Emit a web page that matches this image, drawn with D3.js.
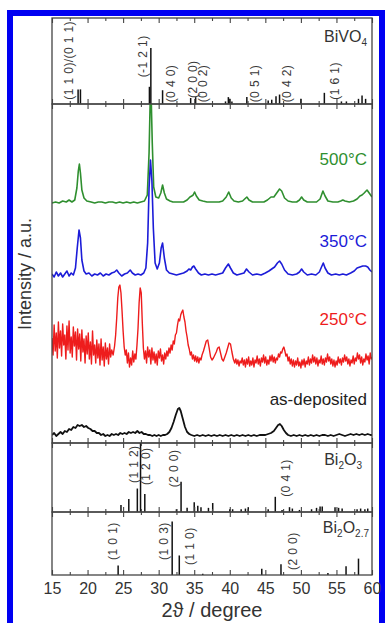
<!DOCTYPE html>
<html><head><meta charset="utf-8">
<script src="https://cdn.jsdelivr.net/npm/d3@7"></script>
<style>body{margin:0;background:#fff}svg{display:block}text{font-family:"Liberation Sans",Arial,sans-serif}</style>
</head><body><svg id="c" width="386" height="623"></svg>
<script>
// ---------- DATA ----------
const majorTicks = [15,20,25,30,35,40,45,50,55,60];
const minorTicks = [17.5,22.5,27.5,32.5,37.5,42.5,47.5,52.5,57.5];

// BiVO4 reference sticks [2θ, rel. intensity %]
const bivo4Sticks = [[18.67,17],[19.0,17],[28.7,20],[28.9,65],[30.55,16],[34.5,7],[35.2,8],[39.4,3],[39.8,8],[40.0,6],[40.3,3],[42.4,8],[45.4,4],[45.9,5],[46.5,9],[47.0,11],[50.0,6],[53.3,13],[55.7,3],[56.4,3],[58.1,6],[58.6,10],[59.1,6]];
const bivo4Labels = [["(1 1 0)/(0 1 1)",17.25,5],["(-1 2 1)",27.66,31],["(0 4 0)",31.6,2],["(2 0 0)",34.8,7],["(0 0 2)",36.2,2],["(0 5 1)",43.5,2],["(0 4 2)",48.0,2],["(1 6 1)",54.7,5]];

// Bi2O3 reference sticks
const bi2o3Sticks = [[24.7,10],[25.8,19],[27.0,34],[27.45,100],[28.05,26],[32.5,4],[33.15,44],[34.0,6],[35.0,14],[35.5,9],[35.95,7],[37.0,6],[37.6,13],[40.0,4],[40.4,4],[41.6,4],[42.2,5],[42.6,7],[45.4,4],[46.4,22],[47.35,3],[48.4,7],[48.8,5],[49.8,3],[51.5,4],[52.2,6],[52.7,8],[53.0,8],[54.8,7],[55.3,6],[55.8,5],[57.9,4],[58.4,5],[59.0,4],[59.4,5]];
const bi2o3Labels = [["(1 1 2)",26.5,42],["(1 2 0)",28.2,39],["(2 0 0)",32.15,36],["(0 4 1)",47.9,22]];

// Bi2O2.7 reference sticks
const bi2o27Sticks = [[24.3,15],[31.9,85],[32.9,31],[36.2,2],[44.5,10],[47.2,17],[53.8,3],[56.35,14],[58.1,26]];
const bi2o27Labels = [["(1 0 1)",23.5,24],["(1 0 3)",30.7,24],["(1 1 0)",34.3,16],["(2 0 0)",48.8,8]];

// measured patterns [2θ, stacked intensity]
const curve500 = [[15,240],[15.5,241],[16,240],[16.5,242],[17,241],[17.4,243],[17.8,241],[18.2,243],[18.5,255],[18.7,272],[18.85,279],[19.0,270],[19.2,253],[19.5,245],[19.9,242],[20.5,241],[21,240],[21.5,241],[22,241],[22.5,240],[23,241],[23.5,241],[24,240],[24.5,241],[25,240],[25.5,241],[26,240],[26.5,241],[27,240],[27.5,241],[28,242],[28.4,248],[28.65,290],[28.8,340],[28.95,345],[29.1,300],[29.3,256],[29.6,246],[30.0,245],[30.3,250],[30.55,258],[30.8,250],[31.1,244],[31.6,242],[32,241],[32.5,241],[33,241],[33.5,241],[34.0,243],[34.4,246],[34.65,247],[34.85,248],[35.05,251],[35.3,247],[35.7,243],[36.2,242],[36.8,241],[37.5,241],[38,241],[38.5,241],[39,242],[39.5,246],[39.85,251],[40.2,245],[40.6,242],[41.2,241],[41.8,242],[42.1,244],[42.4,246],[42.7,243],[43.2,241],[44,241],[44.8,241],[45.3,243],[45.8,246],[46.2,246],[46.6,250],[47.0,254],[47.3,252],[47.7,245],[48.2,242],[48.8,241],[49.4,241],[49.8,243],[50.1,246],[50.4,243],[50.9,241],[51.5,241],[52.2,241],[52.7,244],[53.1,252],[53.4,247],[53.8,242],[54.5,241],[55.2,241],[55.6,242],[55.9,243],[56.2,242],[56.8,241],[57.4,242],[57.9,244],[58.3,247],[58.6,248],[58.9,250],[59.3,253],[59.6,250],[60,246]];

const curve350 = [[15,169],[15.3,166],[15.6,171],[15.9,167],[16.2,170],[16.5,166],[16.8,169],[17.1,172],[17.4,167],[17.7,170],[18.0,168],[18.3,175],[18.55,195],[18.8,213],[19.0,205],[19.2,183],[19.5,172],[19.8,169],[20.2,170],[20.6,167],[21.0,169],[21.4,168],[21.8,170],[22.2,167],[22.6,169],[23.0,168],[23.4,170],[23.8,171],[24.1,173],[24.4,170],[24.8,167],[25.2,169],[25.6,170],[26.0,173],[26.3,170],[26.7,168],[27.1,169],[27.5,168],[27.9,170],[28.2,175],[28.45,200],[28.65,255],[28.85,283],[29.05,262],[29.25,215],[29.5,180],[29.8,174],[30.1,180],[30.35,195],[30.55,200],[30.8,185],[31.1,173],[31.5,170],[32,169],[32.5,168],[33,169],[33.5,170],[34.0,172],[34.25,174],[34.5,173],[34.75,176],[34.95,177],[35.2,174],[35.6,170],[36,168],[36.5,169],[37,168],[37.5,169],[38,168],[38.5,169],[39.0,170],[39.4,175],[39.8,179],[40.1,175],[40.5,170],[41,168],[41.5,169],[42.0,170],[42.35,174],[42.7,171],[43.2,168],[43.8,169],[44.4,168],[45.0,170],[45.5,172],[45.9,174],[46.3,176],[46.7,180],[47.0,182],[47.3,179],[47.7,173],[48.2,169],[48.8,168],[49.4,169],[49.8,171],[50.1,174],[50.4,171],[50.9,168],[51.5,169],[52.1,168],[52.6,171],[52.9,176],[53.15,180],[53.4,175],[53.8,170],[54.3,168],[54.9,169],[55.4,168],[55.9,169],[56.4,168],[57,170],[57.5,172],[57.9,175],[58.3,176],[58.7,177],[59.1,177],[59.4,176],[59.7,173],[60,171]];

const curve250 = [[15.0,105],[15.15,88],[15.3,118],[15.45,92],[15.6,110],[15.75,85],[15.9,121],[16.05,95],[16.2,112],[16.35,87],[16.5,119],[16.65,98],[16.8,108],[16.95,84],[17.1,117],[17.25,93],[17.4,122],[17.55,90],[17.7,106],[17.85,86],[18.0,116],[18.15,97],[18.3,111],[18.45,83],[18.6,114],[18.75,94],[18.9,109],[19.05,82],[19.2,113],[19.35,91],[19.5,104],[19.65,80],[19.8,107],[19.95,89],[20.1,110],[20.25,84],[20.4,101],[20.55,79],[20.7,112],[20.85,88],[21.0,98],[21.15,80],[21.3,103],[21.45,85],[21.6,99],[21.75,78],[21.9,104],[22.05,83],[22.2,96],[22.35,77],[22.5,100],[22.65,84],[22.8,95],[22.95,79],[23.1,99],[23.25,86],[23.4,93],[23.6,88],[23.8,97],[23.95,108],[24.1,125],[24.25,145],[24.4,156],[24.55,158],[24.7,150],[24.85,132],[25.0,112],[25.15,96],[25.3,88],[25.45,93],[25.6,80],[25.75,90],[25.9,76],[26.05,85],[26.2,78],[26.35,92],[26.5,81],[26.65,89],[26.8,84],[26.95,98],[27.1,115],[27.25,140],[27.4,155],[27.55,150],[27.7,120],[27.85,95],[28.0,84],[28.15,92],[28.3,80],[28.45,96],[28.6,86],[28.75,93],[28.9,79],[29.05,95],[29.2,83],[29.35,91],[29.5,80],[29.65,89],[29.8,78],[29.95,92],[30.1,85],[30.25,94],[30.4,82],[30.55,88],[30.7,79],[30.85,90],[31.0,84],[31.15,92],[31.3,87],[31.45,95],[31.6,90],[31.75,98],[31.9,93],[32.05,102],[32.2,99],[32.35,108],[32.5,110],[32.65,118],[32.8,124],[32.95,122],[33.1,128],[33.25,131],[33.4,133],[33.55,126],[33.7,121],[33.85,112],[34.0,106],[34.15,98],[34.3,94],[34.45,88],[34.6,91],[34.75,84],[34.9,88],[35.05,82],[35.2,87],[35.35,81],[35.5,86],[35.65,80],[35.8,85],[35.95,83],[36.1,88],[36.3,92],[36.5,97],[36.7,102],[36.9,103],[37.1,95],[37.3,86],[37.5,83],[37.7,85],[37.9,88],[38.1,91],[38.3,95],[38.5,96],[38.7,90],[38.9,84],[39.1,82],[39.3,86],[39.5,90],[39.7,95],[39.9,100],[40.1,99],[40.3,91],[40.5,84],[40.7,80],[40.85,84],[41.0,79],[41.15,83],[41.3,77],[41.45,82],[41.6,80],[41.75,85],[41.9,78],[42.05,83],[42.2,76],[42.35,84],[42.5,79],[42.65,86],[42.8,77],[42.95,82],[43.1,78],[43.25,85],[43.4,76],[43.55,83],[43.7,80],[43.85,87],[44.0,79],[44.15,84],[44.3,77],[44.45,85],[44.6,81],[44.75,88],[44.9,80],[45.05,86],[45.2,78],[45.35,83],[45.5,79],[45.65,87],[45.8,82],[45.95,88],[46.1,81],[46.25,86],[46.4,80],[46.55,85],[46.7,83],[46.85,89],[47.0,86],[47.15,91],[47.3,90],[47.45,94],[47.6,96],[47.75,92],[47.9,87],[48.05,89],[48.2,82],[48.35,86],[48.5,79],[48.65,84],[48.8,77],[48.95,83],[49.1,76],[49.25,82],[49.4,78],[49.55,85],[49.7,77],[49.85,81],[50.0,75],[50.15,83],[50.3,78],[50.45,84],[50.6,76],[50.75,82],[50.9,79],[51.05,86],[51.2,78],[51.35,84],[51.5,80],[51.65,88],[51.8,81],[51.95,86],[52.1,79],[52.25,85],[52.4,77],[52.55,83],[52.7,80],[52.85,87],[53.0,79],[53.15,84],[53.3,78],[53.45,85],[53.6,81],[53.75,89],[53.9,82],[54.05,86],[54.2,79],[54.35,84],[54.5,77],[54.65,83],[54.8,76],[54.95,82],[55.1,78],[55.25,86],[55.4,80],[55.55,84],[55.7,78],[55.85,85],[56.0,81],[56.15,88],[56.3,82],[56.45,86],[56.6,79],[56.75,84],[56.9,77],[57.05,83],[57.2,80],[57.35,87],[57.5,79],[57.65,85],[57.8,82],[57.95,90],[58.1,84],[58.25,88],[58.4,80],[58.55,86],[58.7,78],[58.85,84],[59.0,81],[59.15,89],[59.3,83],[59.45,87],[59.6,79],[59.75,90],[59.9,84],[60.0,86]];

const curveAsDep = [[15,8],[15.3,10],[15.6,7],[15.9,9],[16.2,11],[16.5,9],[16.8,12],[17.1,11],[17.4,14],[17.7,13],[18,16],[18.3,15],[18.6,18],[18.9,17],[19.2,18],[19.5,16],[19.8,17],[20.1,15],[20.4,14],[20.7,12],[21,12],[21.3,10],[21.6,10],[21.9,8],[22.2,9],[22.5,7],[22.8,8],[23.1,7],[23.4,9],[23.7,8],[24,9],[24.3,8],[24.6,10],[24.9,9],[25.2,10],[25.5,9],[25.8,11],[26.1,10],[26.4,11],[26.7,10],[27,12],[27.3,10],[27.6,11],[27.9,9],[28.2,9],[28.5,8],[28.8,8],[29.1,7],[29.4,8],[29.7,7],[30,8],[30.3,7],[30.6,8],[30.9,8],[31.2,9],[31.5,11],[31.8,15],[32.1,21],[32.4,28],[32.7,34],[32.9,35],[33.1,32],[33.4,24],[33.7,16],[34,11],[34.3,9],[34.6,8],[35,7],[35.4,8],[35.8,7],[36.2,8],[36.6,7],[37,8],[37.4,7],[37.8,8],[38.2,7],[38.6,8],[39,7],[39.4,8],[39.8,7],[40.2,8],[40.6,7],[41,8],[41.4,7],[41.8,8],[42.2,7],[42.6,8],[43,7],[43.4,8],[43.8,7],[44.2,8],[44.6,8],[45,8],[45.4,9],[45.8,10],[46.2,12],[46.5,15],[46.8,18],[47.05,19],[47.3,17],[47.6,13],[47.9,10],[48.2,8],[48.6,7],[49,8],[49.4,7],[49.8,8],[50.2,7],[50.6,8],[51,7],[51.4,8],[51.8,7],[52.2,8],[52.6,7],[53,8],[53.4,8],[53.8,7],[54.2,8],[54.6,7],[55,8],[55.4,9],[55.8,8],[56.2,7],[56.6,8],[57,9],[57.4,8],[57.8,9],[58.2,8],[58.6,9],[59,8],[59.4,9],[59.8,8],[60,8]];

const seriesNames = ["500°C","350°C","250°C","as-deposited"];
const seriesColors = ["#2f8f2f","#1c1cd8","#ee1c1c","#111111"];

// ---------- LAYOUT ----------
const svg = d3.select("#c");
const L = 52, R = 372;
const x = d3.scaleLinear().domain([15,60]).range([L,R]);
const panels = {
  bivo4: {top:18, bottom:104},
  main:  {top:104, bottom:443},
  bi2o3: {top:443, bottom:512},
  bi2o27:{top:512, bottom:575}
};
const frameColor = "#444";
const txt = "#333";

// blue border
svg.append("rect").attr("x",10).attr("y",13).attr("width",372).attr("height",620)
  .attr("fill","none").attr("stroke","#0000f2").attr("stroke-width",6);

function ticks(p){
  const g = svg.append("g");
  const mk = (axisFn, y, vals, size) => g.append("g").attr("transform",`translate(0,${y})`)
      .call(axisFn(x).tickValues(vals).tickSize(size).tickFormat(""))
      .call(s=>s.select(".domain").remove())
      .call(s=>s.selectAll("line").attr("stroke",frameColor).attr("stroke-width",1.1));
  mk(d3.axisBottom, p.bottom, majorTicks, -5);
  mk(d3.axisBottom, p.bottom, minorTicks, -3);
  mk(d3.axisTop, p.top, majorTicks, -5);
  mk(d3.axisTop, p.top, minorTicks, -3);
}

function stickPanel(p, sticks, labels){
  const y = d3.scaleLinear().domain([0,100]).range([p.bottom,p.top]);
  svg.append("g").selectAll("line").data(sticks).join("line")
    .attr("x1",d=>x(d[0])).attr("x2",d=>x(d[0]))
    .attr("y1",y(0)).attr("y2",d=>y(d[1]))
    .attr("stroke","#111").attr("stroke-width",1.5);
  svg.append("g").selectAll("text").data(labels).join("text")
    .attr("transform",d=>`translate(${x(d[1])+4.5},${y(d[2])}) rotate(-90)`)
    .attr("font-size",12).attr("letter-spacing",0.4).attr("fill","#3a3a3a").text(d=>d[0]);
  ticks(p);
  svg.append("rect").attr("x",L).attr("y",p.top).attr("width",R-L).attr("height",p.bottom-p.top)
    .attr("fill","none").attr("stroke",frameColor).attr("stroke-width",1.3);
  return y;
}

// BiVO4
stickPanel(panels.bivo4, bivo4Sticks, bivo4Labels);
const t1 = svg.append("text").attr("x",367).attr("y",42).attr("text-anchor","end").attr("font-size",16).attr("fill",txt);
t1.append("tspan").text("BiVO");
t1.append("tspan").attr("font-size",10).attr("dy",4).text("4");

// main panel
const pm = panels.main;
const yM = d3.scaleLinear().domain([0,339]).range([pm.bottom,pm.top]);
svg.append("clipPath").attr("id","clipM").append("rect")
  .attr("x",L).attr("y",pm.top).attr("width",R-L).attr("height",pm.bottom-pm.top);
const line = d3.line().x(d=>x(d[0])).y(d=>yM(d[1]));
const curves = [curve500, curve350, curve250, curveAsDep];
const widths = [1.6,1.6,1.4,1.8];
const gM = svg.append("g").attr("clip-path","url(#clipM)");
curves.forEach((c,i)=>{
  gM.append("path").datum(c).attr("d",line).attr("fill","none")
    .attr("stroke",seriesColors[i]).attr("stroke-width",widths[i]).attr("stroke-linejoin","round");
});
const labelY = [165,246.5,325,405];
seriesNames.forEach((n,i)=>{
  svg.append("text").attr("x",367).attr("y",labelY[i]).attr("text-anchor","end")
    .attr("font-size",17).attr("fill",i===3?"#222":seriesColors[i]).text(n);
});
ticks(pm);
svg.append("rect").attr("x",L).attr("y",pm.top).attr("width",R-L).attr("height",pm.bottom-pm.top)
  .attr("fill","none").attr("stroke",frameColor).attr("stroke-width",1.3);

// Bi2O3
stickPanel(panels.bi2o3, bi2o3Sticks, bi2o3Labels);
const t2 = svg.append("text").attr("x",362).attr("y",465).attr("text-anchor","end").attr("font-size",16).attr("fill",txt);
t2.append("tspan").text("Bi");
t2.append("tspan").attr("font-size",10).attr("dy",4).text("2");
t2.append("tspan").attr("dy",-4).text("O");
t2.append("tspan").attr("font-size",10).attr("dy",4).text("3");

// Bi2O2.7
stickPanel(panels.bi2o27, bi2o27Sticks, bi2o27Labels);
const t3 = svg.append("text").attr("x",369).attr("y",533).attr("text-anchor","end").attr("font-size",16).attr("fill",txt);
t3.append("tspan").text("Bi");
t3.append("tspan").attr("font-size",10).attr("dy",4).text("2");
t3.append("tspan").attr("dy",-4).text("O");
t3.append("tspan").attr("font-size",10).attr("dy",4).text("2.7");

// bottom tick labels
const gx = svg.append("g").attr("transform",`translate(0,${panels.bi2o27.bottom})`)
  .call(d3.axisBottom(x).tickValues(majorTicks).tickSize(0).tickPadding(8).tickFormat(d3.format("d")));
gx.select(".domain").remove();
gx.selectAll("text").attr("font-size",16).attr("fill",txt).attr("font-family","Liberation Sans, Arial, sans-serif").attr("dy","0.71em");

// axis titles
svg.append("text").attr("x",(L+R)/2).attr("y",617).attr("text-anchor","middle")
  .attr("font-size",20).attr("fill",txt).text("2ϑ / degree");
svg.append("text").attr("transform","translate(31,274) rotate(-90)").attr("text-anchor","middle")
  .attr("font-size",18).attr("fill",txt).text("Intensity / a.u.");
</script></body></html>
